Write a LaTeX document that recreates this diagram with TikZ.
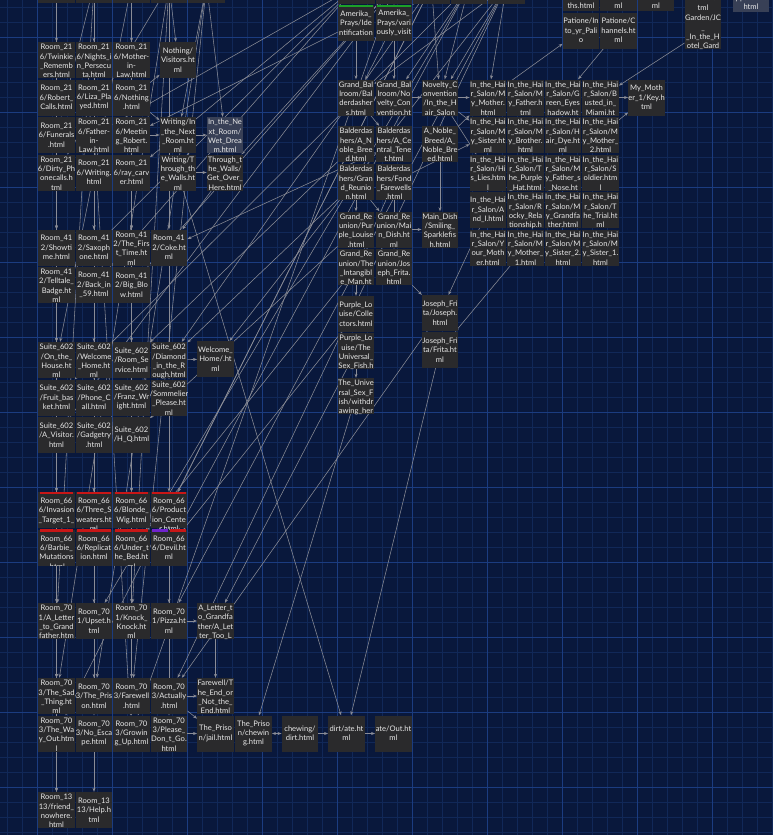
\documentclass[tikz,border=0pt]{standalone}
\usepackage{fontspec}
\setsansfont{Lato}
\usetikzlibrary{arrows.meta}

\definecolor{bgblue}{RGB}{9,24,60}
\definecolor{gridminor}{RGB}{17,40,88}
\definecolor{gridmajor}{RGB}{27,60,128}
\definecolor{pagegray}{RGB}{42,42,44}
\definecolor{pagedim}{RGB}{56,64,86}
\definecolor{textwhite}{RGB}{232,232,232}
\definecolor{linkgray}{RGB}{138,140,150}
\definecolor{barred}{RGB}{200,22,22}
\definecolor{bargreen}{RGB}{28,160,40}
\definecolor{barpurple}{RGB}{112,34,206}

\pgfdeclarelayer{grid}
\pgfdeclarelayer{links}
\pgfsetlayers{grid,links,main}

\tikzset{
  pagetext/.style={inner sep=0pt, align=center, text=textwhite, fill=none, draw=none,
    minimum size=0pt, path picture={}, font=\sffamily\fontsize{7.6}{9.3}\selectfont},
  pagebase/.style={fill=pagegray, inner sep=0pt, minimum width=36.5pt, minimum height=36pt},
  pagebox/.style={pagebase, path picture={\node[pagetext] at (path picture bounding box.center) {#1};}},
  pagetall/.style={pagebase, path picture={\node[pagetext, anchor=north] at ([yshift=-2pt]path picture bounding box.north) {#1};}},
  pagebar/.style={pagebase, path picture={\node[pagetext, anchor=north] at ([yshift=-6pt]path picture bounding box.north) {#1};}},
  pagecut/.style={pagebase, path picture={\node[pagetext, anchor=south] at ([yshift=2pt]path picture bounding box.south) {#1};}},
  link/.style={draw=linkgray, line width=0.55pt, -{Stealth[length=4pt,width=3pt]}},
  twolink/.style={link, {Stealth[length=4pt,width=3pt]}-{Stealth[length=4pt,width=3pt]}},
  minorline/.style={draw=gridminor, line width=0.4pt},
  majorline/.style={draw=gridmajor, line width=0.7pt}
}

\begin{document}
\begin{tikzpicture}[x=1pt, y=-1pt]
  \useasboundingbox (0,0) rectangle (773,835);
  % Background
  \begin{pgfonlayer}{grid}
    \fill[bgblue] (0,0) rectangle (773,835);
    \foreach \x in {7.5,22.5,...,772.5} \draw[minorline] (\x,0) -- (\x,835);
    \foreach \y in {7.5,22.5,...,832.5} \draw[minorline] (0,\y) -- (773,\y);
    \foreach \x in {37.5,112.5,...,712.5} \draw[majorline] (\x,0) -- (\x,835);
    \foreach \y in {37.5,112.5,...,787.5} \draw[majorline] (0,\y) -- (773,\y);
  \end{pgfonlayer}

  % Nodes: cut off at the top
  \node[pagecut={ml}] (tl1) at (56.5,-15) {};
  \node[pagecut={ml}] (tl2) at (94,-15) {};
  \node[pagecut={}] (tl3) at (131.5,-15) {};
  \node[pagecut={}] (tl4) at (169,-15) {};
  \node[pagecut={}] (tl5) at (206.5,-15) {};
  \node[pagecut={}] (tm1) at (356.5,-14) {};
  \node[pagecut={}] (tm2) at (394,-14) {};
  \node[pagecut={}] (tm3) at (431.5,-14) {};
  \node[pagecut={}] (tm4) at (469,-14) {};
  \node[pagecut={}] (tm5) at (506.5,-14) {};
  \node[pagecut={ths.html}] (tr1) at (581,-7) {};
  \node[pagecut={ml}] (tr2) at (618.5,-7) {};
  \node[pagecut={ml}] (tr3) at (656,-7) {};
  \node[pagecut={Wonder.h\\tml}] (wonder) at (703,-5.5) {};
  \node[pagecut={ppartion.\\html}, fill=pagedim] (appart) at (751,-6) {};
  \node[pagebox={Patione/In\\to\_yr\_Pali\\o}] (palio) at (581,30.5) {};
  \node[pagebox={Patione/C\\hannels.ht\\ml}] (channels) at (618.5,30.5) {};
  \node[pagetall={Garden/JC\\\_\\\_In\_the\_H\\otel\_Gard}] (garden) at (703,31) {};

  % Nodes: Room_216
  \node[pagetall={Room\_21\\6/Twinkie\\\_Rememb\\ers.html}] (twinkie) at (56.5,60) {};
  \node[pagetall={Room\_21\\6/Nights\_i\\n\_Persecu\\ta.html}] (nights) at (94,60) {};
  \node[pagetall={Room\_21\\6/Mother-\\in-\\Law.html}] (motherlaw) at (131.5,60) {};
  \node[pagebox={Room\_21\\6/Robert\_\\Calls.html}] (robert) at (56.5,97.5) {};
  \node[pagebox={Room\_21\\6/Liza\_Pla\\yed.html}] (liza) at (94,97.5) {};
  \node[pagebox={Room\_21\\6/Nothing\\.html}] (nothing) at (131.5,97.5) {};
  \node[pagebox={Room\_21\\6/Funerals\\.html}] (funerals) at (56.5,135) {};
  \node[pagetall={Room\_21\\6/Father-\\in-\\Law.html}] (fatherlaw) at (94,135) {};
  \node[pagetall={Room\_21\\6/Meetin\\g\_Robert.\\html}] (meeting) at (131.5,135) {};
  \node[pagetall={Room\_21\\6/Dirty\_Ph\\onecalls.h\\tml}] (dirty) at (56.5,172.5) {};
  \node[pagebox={Room\_21\\6/Writing.\\html}] (writing) at (94,172.5) {};
  \node[pagebox={Room\_21\\6/ray\_carv\\er.html}] (carver) at (131.5,172.5) {};
  \node[pagebox={Nothing/\\Visitors.ht\\ml}] (visitors) at (178,60) {};
  \node[pagetall={Writing/In\\\_the\_Next\\\_Room.ht\\ml}] (wnext) at (178,135) {};
  \node[pagetall={Writing/T\\hrough\_th\\e\_Walls.ht\\ml}] (wthrough) at (178,172.5) {};
  \node[pagetall={In\_the\_Ne\\xt\_Room/\\Wet\_Drea\\m.html}, fill=pagedim] (wetdream) at (225,135) {};
  \node[pagetall={Through\_t\\he\_Walls/\\Get\_Over\_\\Here.html}] (getover) at (225,172.5) {};

  % Nodes: Room_412
  \node[pagebox={Room\_41\\2/Showti\\me.html}] (showtime) at (56.5,247.5) {};
  \node[pagebox={Room\_41\\2/Saxoph\\one.html}] (saxophone) at (94,247.5) {};
  \node[pagetall={Room\_41\\2/The\_Firs\\t\_Time.ht\\ml}] (firsttime) at (131.5,247.5) {};
  \node[pagebox={Room\_41\\2/Coke.ht\\ml}] (coke) at (169,247.5) {};
  \node[pagetall={Room\_41\\2/Telltale\_\\Badge.ht\\ml}] (telltale) at (56.5,285) {};
  \node[pagebox={Room\_41\\2/Back\_in\\\_59.html}] (back59) at (94,285) {};
  \node[pagebox={Room\_41\\2/Big\_Blo\\w.html}] (bigblow) at (131.5,285) {};

  % Nodes: Suite_602
  \node[pagetall={Suite\_602\\/On\_the\_\\House.ht\\ml}] (onhouse) at (56.5,360) {};
  \node[pagetall={Suite\_602\\/Welcome\\\_Home.ht\\ml}] (welcome) at (94,360) {};
  \node[pagebox={Suite\_602\\/Room\_Se\\rvice.html}] (service) at (131.5,360) {};
  \node[pagetall={Suite\_602\\/Diamond\\\_in\_the\_R\\ough.html}] (diamond) at (169,360) {};
  \node[pagebox={Suite\_602\\/Fruit\_bas\\ket.html}] (fruit) at (56.5,397.5) {};
  \node[pagebox={Suite\_602\\/Phone\_C\\all.html}] (phone) at (94,397.5) {};
  \node[pagebox={Suite\_602\\/Franz\_Wr\\ight.html}] (franz) at (131.5,397.5) {};
  \node[pagetall={Suite\_602\\/Sommelier\\\_Please.ht\\ml}] (sommelier) at (169,397.5) {};
  \node[pagebox={Suite\_602\\/A\_Visitor.\\html}] (avisitor) at (56.5,435) {};
  \node[pagebox={Suite\_602\\/Gadgetry\\.html}] (gadgetry) at (94,435) {};
  \node[pagebox={Suite\_602\\/H\_Q.html}] (hq) at (131.5,435) {};
  \node[pagebox={Welcome\_\\Home/.ht\\ml}] (welcomehome) at (215.5,359) {};

  % Nodes: Room_666
  \node[pagebar={Room\_66\\6/Invasion\\\_Target\_1\_}] (invasion) at (56.5,510) {};
  \node[pagebar={Room\_66\\6/Three\_S\\weaters.ht\\ml}] (sweaters) at (94,510) {};
  \node[pagebar={Room\_66\\6/Blonde\_\\Wig.html}] (blonde) at (131.5,510) {};
  \node[pagebar={Room\_66\\6/Product\\ion\_Cente\\r.html}] (production) at (169,510) {};
  \node[pagebar={Room\_66\\6/Barbie\_\\Mutations\\.html}] (barbie) at (56.5,547.5) {};
  \node[pagebar={Room\_66\\6/Replicat\\ion.html}] (replication) at (94,547.5) {};
  \node[pagebar={Room\_66\\6/Under\_t\\he\_Bed.ht\\ml}] (underbed) at (131.5,547.5) {};
  \node[pagebar={Room\_66\\6/Devil.ht\\ml}] (devil) at (169,547.5) {};

  % Nodes: Room_701
  \node[pagetall={Room\_70\\1/A\_Letter\\\_to\_Grand\\father.htm}] (letter) at (56.5,621) {};
  \node[pagebox={Room\_70\\1/Upset.h\\tml}] (upset) at (94,621) {};
  \node[pagetall={Room\_70\\1/Knock\_\\Knock.ht\\ml}] (knock) at (131.5,621) {};
  \node[pagebox={Room\_70\\1/Pizza.ht\\ml}] (pizza) at (169,621) {};
  \node[pagetall={A\_Letter\_t\\o\_Grandfa\\ther/A\_Let\\ter\_Too\_L}] (lettertoo) at (215.5,621) {};

  % Nodes: Room_703 and the prison
  \node[pagetall={Room\_70\\3/The\_Sad\\\_Thing.ht\\ml}] (sadthing) at (56.5,696) {};
  \node[pagebox={Room\_70\\3/The\_Pris\\on.html}] (prison) at (94,696) {};
  \node[pagebox={Room\_70\\3/Farewell\\.html}] (farewell703) at (131.5,696) {};
  \node[pagebox={Room\_70\\3/Actually\\.html}] (actually) at (169,696) {};
  \node[pagetall={Room\_70\\3/The\_Wa\\y\_Out.htm\\l}] (wayout) at (56.5,733.5) {};
  \node[pagebox={Room\_70\\3/No\_Esca\\pe.html}] (noescape) at (94,733.5) {};
  \node[pagebox={Room\_70\\3/Growin\\g\_Up.html}] (growing) at (131.5,733.5) {};
  \node[pagetall={Room\_70\\3/Please\_\\Don\_t\_Go.\\html}] (dontgo) at (169,733.5) {};
  \node[pagetall={Farewell/T\\he\_End\_or\\\_Not\_the\_\\End.html}] (farewell) at (215.5,696) {};
  \node[pagebox={The\_Priso\\n/jail.html}] (jail) at (215.5,733.5) {};
  \node[pagebox={The\_Priso\\n/chewin\\g.html}] (pchewing) at (253.5,733.5) {};
  \node[pagebox={chewing/\\dirt.html}] (chewing) at (300,733.5) {};
  \node[pagebox={dirt/ate.ht\\ml}] (dirt) at (346.5,733.5) {};
  \node[pagebox={ate/Out.ht\\ml}] (ateout) at (393.5,733.5) {};
  \node[pagetall={Room\_13\\13/friend\_\\nowhere.\\html}] (friend) at (56.5,810) {};
  \node[pagebox={Room\_13\\13/Help.h\\tml}] (help) at (94,810) {};

  % Nodes: Amerika, ballroom, reunion
  \node[pagebox={Amerika\_\\Prays/Ide\\ntification}] (ident) at (356,23) {};
  \node[pagebox={Amerika\_\\Prays/vari\\ously\_visit}] (visit) at (394,23) {};
  \node[pagetall={Grand\_Bal\\lroom/Bal\\derdasher\\s.html}] (gbbalder) at (356,97.5) {};
  \node[pagetall={Grand\_Bal\\lroom/No\\velty\_Con\\vention.ht}] (gbnovelty) at (394,97.5) {};
  \node[pagetall={Novelty\_C\\onvention\\/In\_the\_H\\air\_Salon}] (novelty) at (440,97.5) {};
  \node[pagetall={Balderdas\\hers/A\_N\\oble\_Bree\\d.html}] (bnoble) at (356,144) {};
  \node[pagetall={Balderdas\\hers/A\_Ce\\ntral\_Tene\\t.html}] (btenet) at (394,144) {};
  \node[pagetall={A\_Noble\_\\Breed/A\_\\Noble\_Bre\\ed.html}] (noble) at (440,144) {};
  \node[pagetall={Balderdas\\hers/Gran\\d\_Reunio\\n.html}] (breunion) at (356,182) {};
  \node[pagetall={Balderdas\\hers/Fond\\\_Farewells\\.html}] (bfarewells) at (394,182) {};
  \node[pagetall={Grand\_Re\\union/Pur\\ple\_Louise\\.html}] (grpurple) at (356,229.5) {};
  \node[pagetall={Grand\_Re\\union/Mai\\n\_Dish.ht\\ml}] (grmain) at (394,229.5) {};
  \node[pagetall={Main\_Dish\\/Smiling\_\\Sparklefis\\h.html}] (smiling) at (440,229.5) {};
  \node[pagetall={Grand\_Re\\union/The\\\_Intangibl\\e\_Man.ht}] (grintang) at (356,267) {};
  \node[pagetall={Grand\_Re\\union/Jos\\eph\_Frita.\\html}] (grjoseph) at (394,267) {};
  \node[pagebox={Purple\_Lo\\uise/Colle\\ctors.html}] (collectors) at (356,314) {};
  \node[pagebox={Joseph\_Fri\\ta/Joseph.\\html}] (joseph) at (440,313) {};
  \node[pagetall={Purple\_Lo\\uise/The\\Universal\_\\Sex\_Fish.h}] (universal) at (356,351) {};
  \node[pagebox={Joseph\_Fri\\ta/Frita.ht\\ml}] (frita) at (440,350) {};
  \node[pagetall={The\_Unive\\rsal\_Sex\_F\\ish/withdr\\awing\_her}] (sexfish) at (356,396) {};

  % Nodes: In_the_Hair_Salon
  \node[pagetall={In\_the\_Hai\\r\_Salon/M\\y\_Mother.\\html}] (hsmother) at (488,97.5) {};
  \node[pagetall={In\_the\_Hai\\r\_Salon/M\\y\_Father.h\\tml}] (hsfather) at (525.5,97.5) {};
  \node[pagetall={In\_the\_Hai\\r\_Salon/G\\reen\_Eyes\\hadow.ht}] (hseyes) at (563,97.5) {};
  \node[pagetall={In\_the\_Hai\\r\_Salon/B\\usted\_in\_\\Miami.ht}] (hsmiami) at (600.5,97.5) {};
  \node[pagetall={In\_the\_Hai\\r\_Salon/M\\y\_Sister.ht\\ml}] (hssister) at (488,135) {};
  \node[pagetall={In\_the\_Hai\\r\_Salon/M\\y\_Brother.\\html}] (hsbrother) at (525.5,135) {};
  \node[pagetall={In\_the\_Hai\\r\_Salon/H\\air\_Dye.ht\\ml}] (hsdye) at (563,135) {};
  \node[pagetall={In\_the\_Hai\\r\_Salon/M\\y\_Mother\_\\2.html}] (hsmother2) at (600.5,135) {};
  \node[pagetall={In\_the\_Hai\\r\_Salon/Hi\\s\_Lies.htm\\l}] (hslies) at (488,172.5) {};
  \node[pagetall={In\_the\_Hai\\r\_Salon/T\\he\_Purple\\\_Hat.html}] (hshat) at (525.5,172.5) {};
  \node[pagetall={In\_the\_Hai\\r\_Salon/M\\y\_Father\_s\\\_Nose.ht}] (hsnose) at (563,172.5) {};
  \node[pagetall={In\_the\_Hai\\r\_Salon/S\\oldier.htm\\l}] (hssoldier) at (600.5,172.5) {};
  \node[pagebox={In\_the\_Hai\\r\_Salon/A\\nd\_I.html}] (hsandi) at (488,210) {};
  \node[pagetall={In\_the\_Hai\\r\_Salon/R\\ocky\_Rela\\tionship.h}] (hsrocky) at (525.5,210) {};
  \node[pagetall={In\_the\_Hai\\r\_Salon/M\\y\_Grandfa\\ther.html}] (hsgrand) at (563,210) {};
  \node[pagetall={In\_the\_Hai\\r\_Salon/T\\he\_Trial.ht\\ml}] (hstrial) at (600.5,210) {};
  \node[pagetall={In\_the\_Hai\\r\_Salon/Y\\our\_Moth\\er.html}] (hsyour) at (488,247.5) {};
  \node[pagetall={In\_the\_Hai\\r\_Salon/M\\y\_Mother\_\\1.html}] (hsmother1) at (525.5,247.5) {};
  \node[pagetall={In\_the\_Hai\\r\_Salon/M\\y\_Sister\_2.\\html}] (hssister2) at (563,247.5) {};
  \node[pagetall={In\_the\_Hai\\r\_Salon/M\\y\_Sister\_1.\\html}] (hssister1) at (600.5,247.5) {};
  \node[pagebox={My\_Moth\\er\_1/Key.h\\tml}] (key) at (646.5,97.5) {};

  % Bars
  \foreach \n in {ident,visit}
    \fill[bargreen] ([xshift=1.5pt]\n.north west) rectangle ([xshift=-1.5pt,yshift=-2.5pt]\n.north east);
  \foreach \n in {invasion,sweaters,blonde,production,barbie,replication,underbed}
    \fill[barred] ([xshift=1.5pt]\n.north west) rectangle ([xshift=-1.5pt,yshift=-2.5pt]\n.north east);
  \fill[barpurple] ([xshift=1.5pt]devil.north west) rectangle ([xshift=-1pt,yshift=-2.5pt]devil.north);
  \fill[barred] ([xshift=1pt]devil.north) rectangle ([xshift=-1.5pt,yshift=-2.5pt]devil.north east);

  % Edges
  \begin{pgfonlayer}{links}
  \draw[link] (tl1) -- (twinkie);
  \draw[link] (tl1) -- (robert);
  \draw[link] (tl1) -- (showtime);
  \draw[link] (tl1) -- (invasion);
  \draw[link] (tl1) -- (friend);
  \draw[link] (tl2) -- (nights);
  \draw[link] (tl2) -- (saxophone);
  \draw[link] (tl2) -- (sweaters);
  \draw[link] (tl2) -- (funerals);
  \draw[link] (tl2) -- (letter);
  \draw[link] (tl3) -- (motherlaw);
  \draw[link] (tl3) -- (firsttime);
  \draw[link] (tl3) -- (onhouse);
  \draw[link] (tl3) -- (blonde);
  \draw[link] (tl4) -- (visitors);
  \draw[link] (tl4) -- (coke);
  \draw[link] (tl4) -- (dirty);
  \draw[link] (tl4) -- (sadthing);
  \draw[link] (tl4) -- (knock);
  \draw[link] (tl5) -- (wetdream);
  \draw[link] (tl5) -- (wnext);
  \draw[link] (tl5) -- (prison);
  \draw[link] (tl5) -- (farewell703);
  \draw[link] (tm1) -- (carver);
  \draw[link] (tm1) -- (telltale);
  \draw[link] (tm1) -- (back59);
  \draw[link] (tm1) -- (fatherlaw);
  \draw[link] (tm2) -- (visit);
  \draw[link] (tm2) -- (getover);
  \draw[link] (tm2) -- (bigblow);
  \draw[link] (tm2) -- (avisitor);
  \draw[link] (tm2) -- (growing);
  \draw[link] (tm3) -- (visit);
  \draw[link] (tm3) -- (novelty);
  \draw[link] (tm3) -- (diamond);
  \draw[link] (tm3) -- (production);
  \draw[link] (tm3) -- (wayout);
  \draw[link] (tm4) -- (novelty);
  \draw[link] (tm4) -- (gbnovelty);
  \draw[link] (tm4) -- (fruit);
  \draw[link] (tm4) -- (devil);
  \draw[link] (tm4) -- (upset);
  \draw[link] (tm5) -- (gbbalder);
  \draw[link] (tm5) -- (novelty);
  \draw[link] (tm5) -- (hsmother);
  \draw[link] (tm5) -- (welcomehome);
  \draw[link] (tm5) -- (pizza);
  \draw[link] (tm5) -- (actually);
  \draw[link] (ident) -- (gbbalder);
  \draw[link] (ident) -- (meeting);
  \draw[link] (visit) -- (gbbalder);
  \draw[link] (visit) -- (gbnovelty);
  \draw[link] (gbnovelty) -- (novelty);
  \draw[link] (novelty) -- (hsmother);
  \draw[link] (novelty) -- (hssister);
  \draw[link] (novelty) -- (hslies);
  \draw[link] (gbbalder) -- (btenet);
  \draw[link] (breunion) -- (grpurple);
  \draw[link] (breunion) -- (grmain);
  \draw[link] (bfarewells) -- (grintang);
  \draw[link] (bfarewells) -- (grjoseph);
  \draw[link] (bfarewells) -- (hssister);
  \draw[link] (noble) -- (hsmother);
  \draw[link] (noble) -- (smiling);
  \draw[link] (btenet) -- (coke);
  \draw[link] (bnoble) -- (service);
  \draw[link] (breunion) -- (diamond);
  \draw[link] (grmain) -- (smiling);
  \draw[link] (grjoseph) -- (joseph);
  \draw[link] (grintang) -- (collectors);
  \draw[link] (universal) -- (sexfish);
  \draw[link] (grpurple) -- (hq);
  \draw[link] (grintang) -- (underbed);
  \draw[link] (collectors) -- (devil);
  \draw[link] (universal) -- (lettertoo);
  \draw[link] (hsmiami) -- (key);
  \draw[link] (hsmother2) -- (key);
  \draw[link] (hsmother) -- (palio);
  \draw[link] (channels) -- (hseyes);
  \draw[link] (garden) -- (hsmiami);
  \draw[link] (hsandi) -- (joseph);
  \draw[link] (hsmother1) -- (frita);
  \draw[link] (sexfish) -- (pchewing);
  \draw[link] (wthrough) -- (dirt);
  \draw[link] (frita) -- (dirt);
  \draw[link] (joseph) -- (actually);
  \draw[link] (lettertoo) -- (farewell);
  \draw[link] (pizza) -- (lettertoo);
  \draw[link] (actually) -- (farewell);
  \draw[link] (actually) -- (jail);
  \draw[link] (dontgo) -- (jail);
  \draw[twolink] (pchewing) -- (chewing);
  \draw[link] (chewing) -- (dirt);
  \draw[link] (dirt) -- (ateout);
  \draw[link] (wayout) -- (friend);
  \draw[link] (noescape) -- (help);
  \draw[link] (diamond) -- (welcomehome);
  \draw[link] (nothing) -- (visitors);
  \draw[link] (nothing) -- (wnext);
  \draw[link] (meeting) -- (wnext);
  \draw[link] (wnext) -- (wetdream);
  \draw[link] (wthrough) -- (getover);
  \draw[link] (getover) -- (coke);
  \draw[link] (dirty) -- (showtime);
  \draw[link] (writing) -- (saxophone);
  \draw[link] (carver) -- (firsttime);
  \draw[link] (funerals) -- (telltale);
  \draw[link] (showtime) -- (onhouse);
  \draw[link] (saxophone) -- (welcome);
  \draw[link] (telltale) -- (onhouse);
  \draw[link] (back59) -- (phone);
  \draw[link] (bigblow) -- (service);
  \draw[link] (firsttime) -- (franz);
  \draw[link] (coke) -- (sommelier);
  \draw[link] (avisitor) -- (invasion);
  \draw[link] (gadgetry) -- (sweaters);
  \draw[link] (hq) -- (blonde);
  \draw[link] (sommelier) -- (production);
  \draw[link] (fruit) -- (barbie);
  \draw[link] (phone) -- (replication);
  \draw[link] (barbie) -- (letter);
  \draw[link] (replication) -- (upset);
  \draw[link] (underbed) -- (knock);
  \draw[link] (devil) -- (pizza);
  \draw[link] (letter) -- (sadthing);
  \draw[link] (upset) -- (prison);
  \draw[link] (knock) -- (farewell703);
  \draw[link] (dirty) -- (avisitor);
  \draw[link] (liza) -- (replication);
  \draw[link] (fatherlaw) -- (growing);
  \draw[link] (robert) -- (wayout);
  \draw[link] (invasion) -- (sadthing);
  \draw[link] (blonde) -- (growing);
  \draw[link] (production) -- (dontgo);
  \draw[link] (sweaters) -- (noescape);
  \end{pgfonlayer}
\end{tikzpicture}
\end{document}
